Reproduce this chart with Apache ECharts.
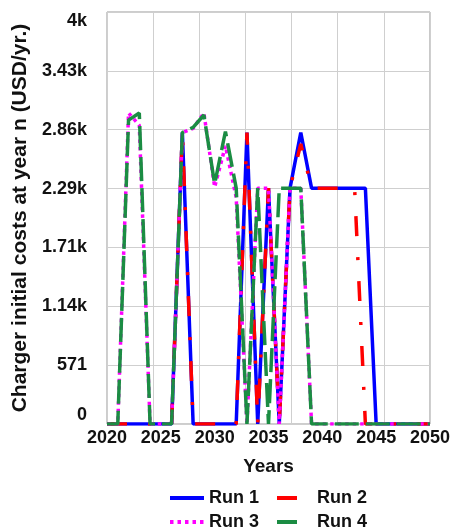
<!DOCTYPE html>
<html>
<head>
<meta charset="UTF-8">
<script src="https://cdn.jsdelivr.net/npm/echarts@6/dist/echarts.min.js"></script>
<style>
  html, body { margin: 0; padding: 0; background: #fff; }
  #main { width: 453px; height: 530px; }
</style>
</head>
<body>
<div id="main"></div>
<script>
var years = [2020, 2021, 2022, 2023, 2024, 2025, 2026, 2027, 2028, 2029,
             2030, 2031, 2032, 2033, 2034, 2035, 2036, 2037, 2038, 2039,
             2040, 2041, 2042, 2043, 2044, 2045, 2046, 2047, 2048, 2049, 2050];
var run1 = [0, 0, 0, 0, 0, 0, 0, 2830, 0, 0, 0, 0, 0, 2830, 0, 2290, 0, 2290, 2830, 2290,
            2290, 2290, 2290, 2290, 2290, 0, 0, 0, 0, 0, 0];
var run2 = [0, 0, 0, 0, 0, 0, 0, 2830, 0, 0, 0, 0, 0, 2830, 0, 2290, 0, 2290, 2720, 2290,
            2290, 2290, 2290, 2290, 0, 0, 0, 0, 0, 0, 0];
var run3 = [0, 0, 3020, 2900, 0, 0, 0, 2830, 2870, 3020, 2300, 2700, 2200, 0, 2290, 2290, 0, 2290, 2290, 0,
            0, 0, 0, 0, 0, 0, 0, 0, 0, 0, 0];
var run4 = [0, 0, 2950, 3020, 0, 0, 0, 2830, 2880, 3000, 2330, 2840, 2290, 0, 2290, 0, 2290, 2290, 2290, 0,
            0, 0, 0, 0, 0, 0, 0, 0, 0, 0, 0];
var yTickLabels = ['0', '571', '1.14k', '1.71k', '2.29k', '2.86k', '3.43k', '4k'];

var font = 'Liberation Sans, Arial, sans-serif';
var yStep = 4000 / 7;
var legendText = { fontFamily: font, fontSize: 18, fontWeight: 'bold', color: '#111' };

function pairs(vals) {
  return years.map(function (y, i) { return [y, vals[i]]; });
}

var myChart = echarts.init(document.getElementById('main'));

myChart.setOption({
  animation: false,
  grid: {
    left: 107, right: 21, top: 12, bottom: 106,
    show: true, borderColor: '#9a9a9a', borderWidth: 1
  },
  legend: [
    { data: ['Run 1'], left: 163, top: 484, itemWidth: 34, itemHeight: 14,
      itemStyle: { opacity: 0 }, lineStyle: { width: 4 },
      textStyle: legendText },
    { data: ['Run 2'], left: 270, top: 484, itemWidth: 20, itemHeight: 14,
      formatter: '   {name}',
      itemStyle: { opacity: 0 }, lineStyle: { type: 'solid', width: 4 },
      textStyle: legendText },
    { data: ['Run 3'], left: 163, top: 508, itemWidth: 34, itemHeight: 14,
      itemStyle: { opacity: 0 }, lineStyle: { width: 4 },
      textStyle: legendText },
    { data: ['Run 4'], left: 270, top: 508, itemWidth: 20, itemHeight: 14,
      formatter: '   {name}',
      itemStyle: { opacity: 0 }, lineStyle: { type: 'solid', width: 4 },
      textStyle: legendText }
  ],
  xAxis: [
    {
      // grid lines (7 divisions)
      type: 'value', min: 2020, max: 2050, interval: 30 / 7,
      axisLine: { show: false }, axisTick: { show: false }, axisLabel: { show: false },
      splitLine: { show: true, lineStyle: { color: '#cfcfcf', width: 1 } }
    },
    {
      type: 'value', min: 2020, max: 2050, interval: 5, position: 'bottom',
      axisLine: { show: false }, axisTick: { show: false },
      splitLine: { show: false },
      axisLabel: { margin: 5, fontFamily: font, fontSize: 18, fontWeight: 'bold', color: '#111',
        formatter: function (v) { return String(v); } },
      name: 'Years', nameLocation: 'middle', nameGap: 33,
      nameTextStyle: { fontFamily: font, fontSize: 19, fontWeight: 'bold', color: '#111' }
    }
  ],
  yAxis: {
    type: 'value', min: 0, max: 4000, interval: yStep,
    axisLine: { show: false }, axisTick: { show: false },
    splitLine: { show: true, lineStyle: { color: '#cfcfcf', width: 1 } },
    axisLabel: {
      margin: 20, fontFamily: font, fontSize: 18, fontWeight: 'bold', color: '#111',
      verticalAlignMinLabel: 'bottom', verticalAlignMaxLabel: 'top',
      formatter: function (v) { return yTickLabels[Math.round(v / yStep)]; }
    },
    name: 'Charger initial costs at year n (USD/yr.)',
    nameLocation: 'middle', nameRotate: 90, nameGap: 76,
    nameTextStyle: { fontFamily: font, fontSize: 21, fontWeight: 'bold', color: '#111' }
  },
  series: [
    { name: 'Run 1', type: 'line', xAxisIndex: 0, data: pairs(run1), symbol: 'none',
      lineStyle: { color: '#0000ff', width: 3.5, cap: 'butt' }, itemStyle: { color: '#0000ff' } },
    { name: 'Run 2', type: 'line', xAxisIndex: 0, data: pairs(run2), symbol: 'none',
      lineStyle: { color: '#ff0000', width: 3.5, type: [20, 21, 3, 21], cap: 'butt' }, itemStyle: { color: '#ff0000' } },
    { name: 'Run 3', type: 'line', xAxisIndex: 0, data: pairs(run3), symbol: 'none',
      lineStyle: { color: '#ff00ff', width: 3.5, type: [3.5, 4], cap: 'butt' }, itemStyle: { color: '#ff00ff' } },
    { name: 'Run 4', type: 'line', xAxisIndex: 0, data: pairs(run4), symbol: 'none',
      lineStyle: { color: '#1b8c43', width: 3.5, type: [24, 7], cap: 'butt' }, itemStyle: { color: '#1b8c43' } }
  ]
});
</script>
</body>
</html>
